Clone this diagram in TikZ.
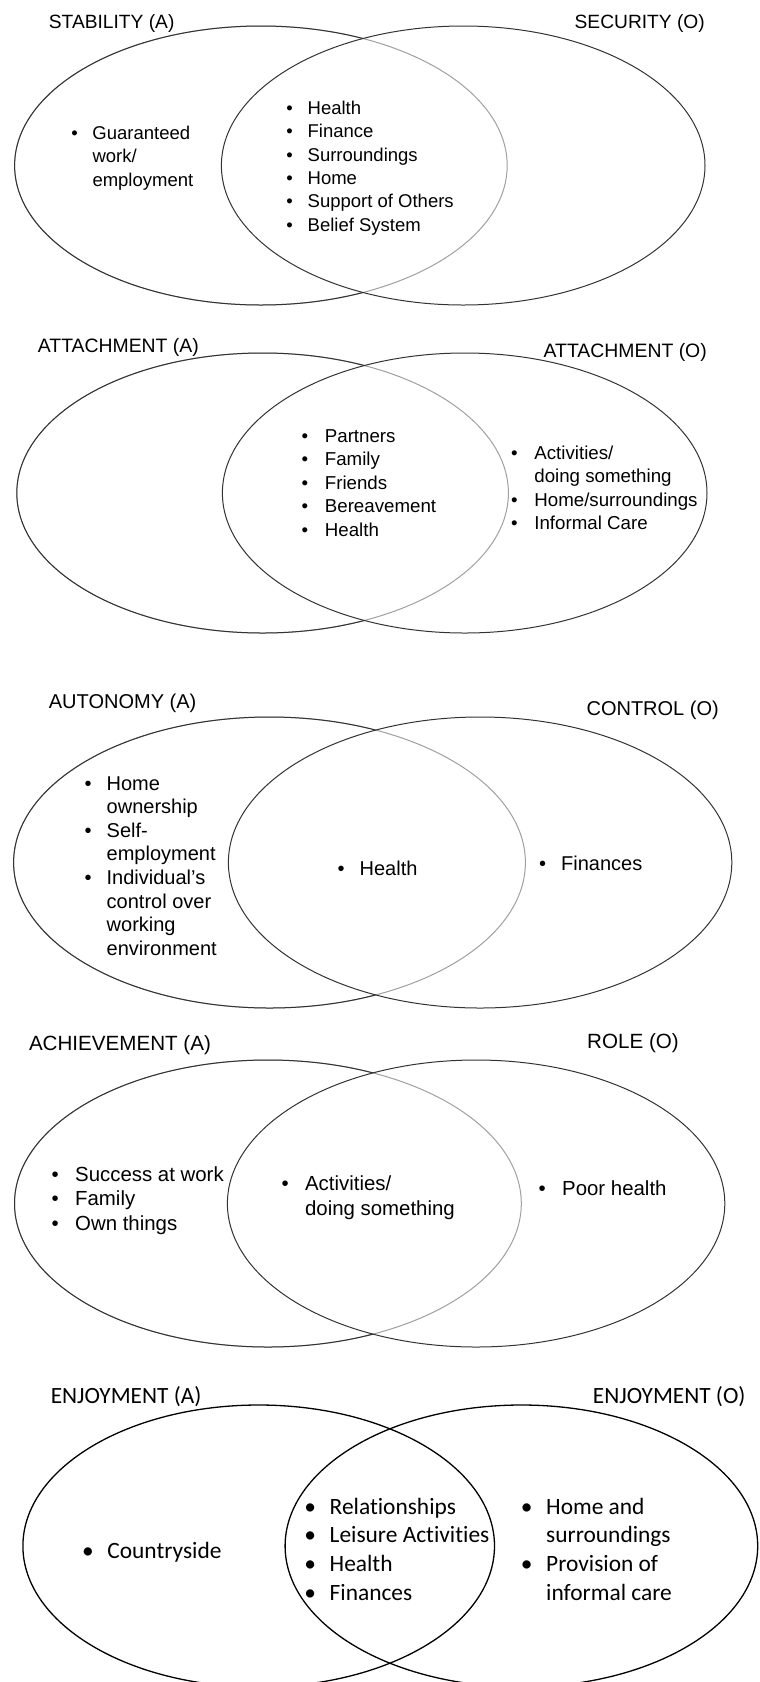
\documentclass[tikz,border=0pt]{standalone}
\usepackage{fontspec}
\setmainfont{Liberation Sans}
\newfontfamily\calfont[Ligatures=NoCommon]{Carlito}
\definecolor{lineDark}{HTML}{333333}
\definecolor{lineLight}{HTML}{A0A0A0}
\newlength\bd
\newcommand\bu{\llap{\makebox[0pt][c]{•}\hspace{\bd}}}
\newcommand\blk[1]{\begin{tabular}[t]{@{}l@{}}#1\end{tabular}}
\newcommand\vennpair[7]{% cy ry lcx lrx rcx rrx xint
  \draw[lt] (#3,#1) ellipse [x radius=#4, y radius=#2];
  \begin{scope}
    \clip (0,#1-#2-5) rectangle (#7,#1+#2+5);
    \draw[dk] (#3,#1) ellipse [x radius=#4, y radius=#2];
  \end{scope}
  \draw[dk] (#5,#1) ellipse [x radius=#6, y radius=#2];
}
\tikzset{
  dk/.style={draw=lineDark, line width=1pt},
  lt/.style={draw=lineLight, line width=1pt},
  bk/.style={draw=black, line width=1.3pt},
  ttlA/.style={inner sep=0pt, anchor=base west},
  ttlO/.style={inner sep=0pt, anchor=base east},
  itm/.style={inner sep=0pt, anchor=base west},
  f1/.style={font=\fontsize{18.5}{23.3}\selectfont\setlength\bd{18pt}},
  f2/.style={font=\fontsize{18.7}{23.4}\selectfont\setlength\bd{20pt}},
  f3/.style={font=\fontsize{20}{23.6}\selectfont\setlength\bd{18.5pt}},
  f4/.style={font=\fontsize{20.4}{24.6}\selectfont\setlength\bd{20pt}},
  f5/.style={font=\calfont\fontsize{23.4}{28.7}\selectfont\setlength\bd{19.5pt}},
  h1/.style={font=\fontsize{19.2}{23}\selectfont},
  h2/.style={font=\fontsize{19.4}{23}\selectfont},
  h3/.style={font=\fontsize{20}{23}\selectfont},
  h4/.style={font=\fontsize{20.6}{23}\selectfont},
  h5/.style={font=\calfont\fontsize{23.3}{28}\selectfont},
}
\begin{document}
\begin{tikzpicture}[x=1pt,y=-1pt]
\useasboundingbox (0,0) rectangle (760,1682);
\fill[white] (0,0) rectangle (760,1682);
\begin{scope}
\clip (0,0) rectangle (760,1682);

% ---- Panel 1
\vennpair{165.5}{139.5}{260.9}{246.3}{463.2}{241.8}{362.9}
\node[ttlA,h1] (t1a) at (48.7,28.5) {STABILITY (A)};
\node[ttlO,h1] (t1o) at (705,28.5) {SECURITY (O)};
\node[itm,f1] (i1l) at (92.3,139.5) {\blk{\bu Guaranteed\\work/\\employment}};
\node[itm,f1] (i1c) at (307.5,114.5) {\blk{\bu Health\\\bu Finance\\\bu Surroundings\\\bu Home\\\bu Support of Others\\\bu Belief System}};

% ---- Panel 2
\vennpair{493}{140}{262.6}{245.8}{464.7}{242.3}{364.4}
\node[ttlA,h2] (t2a) at (37.7,352.5) {ATTACHMENT (A)};
\node[ttlO,h2] (t2o) at (707,357) {ATTACHMENT (O)};
\node[itm,f2] (i2c) at (324.7,442.5) {\blk{\bu Partners\\\bu Family\\\bu Friends\\\bu Bereavement\\\bu Health}};
\node[itm,f2] (i2r) at (534.2,459.5) {\blk{\bu Activities/\\doing something\\\bu Home/surroundings\\\bu Informal Care}};

% ---- Panel 3
\vennpair{862.5}{145.5}{269.5}{255.9}{480.1}{251.7}{375.6}
\node[ttlA,h3] (t3a) at (48.7,708.5) {AUTONOMY (A)};
\node[ttlO,h3] (t3o) at (719,715) {CONTROL (O)};
\node[itm,f3] (i3l) at (106.5,790) {\blk{\bu Home\\ownership\\\bu Self-\\employment\\\bu Individual’s\\control over\\working\\environment}};
\node[itm,f3] (i3c) at (359.5,875) {\blk{\bu Health}};
\node[itm,f3] (i3r) at (561,870) {\blk{\bu Finances}};

% ---- Panel 4
\vennpair{1203.5}{143.5}{267.9}{253.4}{476.1}{248.7}{373}
\node[ttlA,h4] (t4a) at (28.8,1050) {ACHIEVEMENT (A)};
\node[ttlO,h4] (t4o) at (679,1048) {ROLE (O)};
\node[itm,f4] (i4l) at (75,1181) {\blk{\bu Success at work\\\bu Family\\\bu Own things}};
\node[itm,f4] (i4c) at (304.9,1190.5) {\blk{\bu Activities/\\doing something}};
\node[itm,f4] (i4r) at (562,1195.5) {\blk{\bu Poor health}};

% ---- Panel 5
\draw[bk] (258.7,1546) ellipse [x radius=235.8, y radius=141];
\draw[bk] (521.4,1546) ellipse [x radius=236.3, y radius=141];
\node[ttlA,h5] (t5a) at (50.6,1403) {ENJOYMENT (A)};
\node[ttlO,h5] (t5o) at (745.7,1403) {ENJOYMENT (O)};
\node[itm,f5] (i5l) at (107.2,1558.5) {\blk{\bu Countryside}};
\node[itm,f5] (i5c) at (329.5,1514) {\blk{\bu Relationships\\\bu Leisure Activities\\\bu Health\\\bu Finances}};
\node[itm,f5] (i5r) at (546,1514) {\blk{\bu Home and\\surroundings\\\bu Provision of\\informal care}};
\end{scope}
\end{tikzpicture}
\end{document}
